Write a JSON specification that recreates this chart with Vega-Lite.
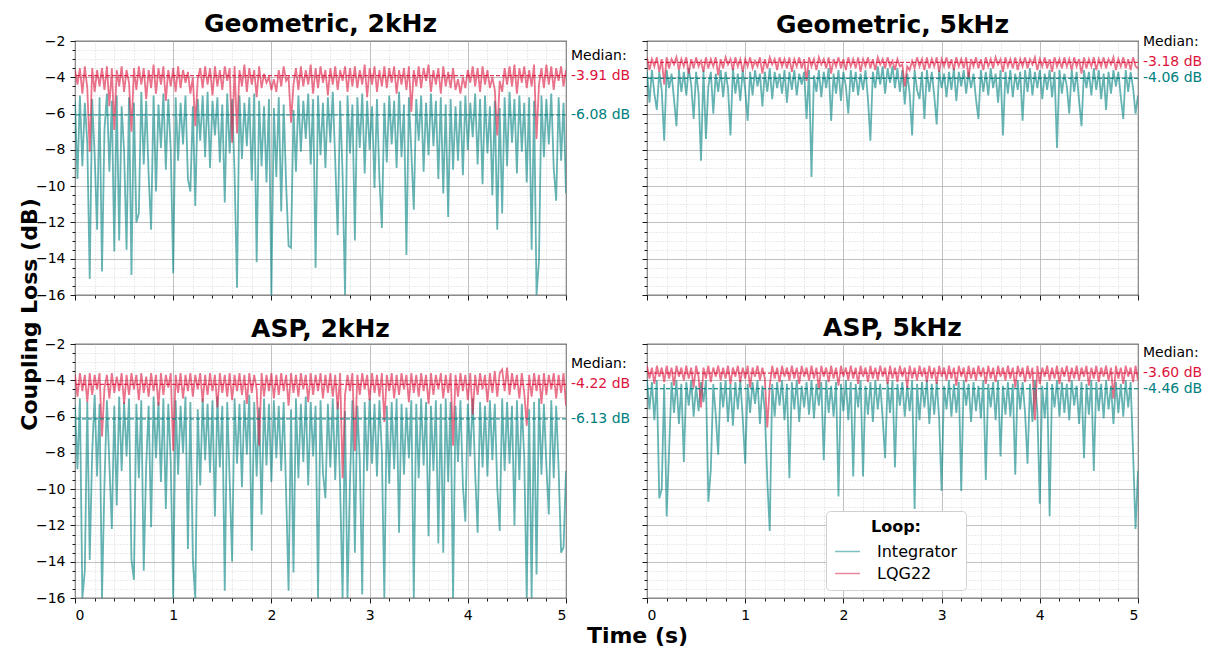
{
"$schema":"https://vega.github.io/schema/vega-lite/v6.json",
"padding":{"left":17,"top":11,"right":5,"bottom":0},
"bounds":"flush",
"columns":2,
"spacing":{"row":49,"column":81},
"datasets":{
"mg2":[{"s":"LQG22","m":-3.91,"lab":"-3.91 dB"},{"s":"Integrator","m":-6.08,"lab":"-6.08 dB"}],
"mg5":[{"s":"LQG22","m":-3.18,"lab":"-3.18 dB"},{"s":"Integrator","m":-4.06,"lab":"-4.06 dB"}],
"ma2":[{"s":"LQG22","m":-4.22,"lab":"-4.22 dB"},{"s":"Integrator","m":-6.13,"lab":"-6.13 dB"}],
"ma5":[{"s":"LQG22","m":-3.60,"lab":"-3.60 dB"},{"s":"Integrator","m":-4.46,"lab":"-4.46 dB"}],
"g2":[
{"t":0,"i":-5.3,"q":-3.6},{"t":0.025,"i":-9.6,"q":-4.4},{"t":0.05,"i":-5,"q":-3.5},{"t":0.075,"i":-8.9,"q":-4.9},{"t":0.1,"i":-5.4,"q":-3.4},{"t":0.125,"i":-7.6,"q":-4.6},{"t":0.15,"i":-15.1,"q":-8.1},{"t":0.175,"i":-5.2,"q":-3.5},{"t":0.2,"i":-8.3,"q":-4.8},{"t":0.225,"i":-12.4,"q":-3.6},
{"t":0.25,"i":-5.1,"q":-4.5},{"t":0.275,"i":-14.7,"q":-3.5},{"t":0.3,"i":-6.9,"q":-4.7},{"t":0.325,"i":-4.9,"q":-3.4},{"t":0.35,"i":-9.2,"q":-5.6},{"t":0.375,"i":-5.3,"q":-3.5},{"t":0.4,"i":-13.6,"q":-6.9},{"t":0.425,"i":-5,"q":-3.6},{"t":0.45,"i":-13,"q":-4.5},{"t":0.475,"i":-5.6,"q":-3.4},
{"t":0.5,"i":-8.1,"q":-4.8},{"t":0.525,"i":-13.5,"q":-3.6},{"t":0.55,"i":-5.1,"q":-4.3},{"t":0.575,"i":-14.9,"q":-7},{"t":0.6,"i":-5.4,"q":-3.5},{"t":0.625,"i":-12,"q":-4.7},{"t":0.65,"i":-11.5,"q":-3.4},{"t":0.675,"i":-4.8,"q":-4.4},{"t":0.7,"i":-8.8,"q":-3.5},{"t":0.725,"i":-5.3,"q":-5.2},
{"t":0.75,"i":-9.4,"q":-3.6},{"t":0.775,"i":-12.4,"q":-4.6},{"t":0.8,"i":-5,"q":-3.3},{"t":0.825,"i":-10.3,"q":-4.9},{"t":0.85,"i":-5.5,"q":-3.5},{"t":0.875,"i":-7.9,"q":-4.4},{"t":0.9,"i":-4.9,"q":-3.4},{"t":0.925,"i":-9.1,"q":-5.3},{"t":0.95,"i":-5.2,"q":-3.6},{"t":0.975,"i":-8,"q":-4.5},
{"t":1,"i":-14.8,"q":-3.5},{"t":1.025,"i":-5.1,"q":-4.8},{"t":1.05,"i":-8.6,"q":-3.4},{"t":1.075,"i":-5.4,"q":-4.6},{"t":1.1,"i":-7.7,"q":-3.6},{"t":1.125,"i":-5,"q":-4.3},{"t":1.15,"i":-9.6,"q":-3.7},{"t":1.175,"i":-10.3,"q":-4.9},{"t":1.2,"i":-5.6,"q":-4},{"t":1.225,"i":-11.1,"q":-6.7},
{"t":1.25,"i":-5.2,"q":-4.1},{"t":1.275,"i":-7.5,"q":-3.5},{"t":1.3,"i":-5,"q":-4.6},{"t":1.325,"i":-8.4,"q":-3.4},{"t":1.35,"i":-4.8,"q":-4.4},{"t":1.375,"i":-9,"q":-3.5},{"t":1.4,"i":-5.3,"q":-5},{"t":1.425,"i":-7.2,"q":-3.4},{"t":1.45,"i":-5.1,"q":-4.5},{"t":1.475,"i":-8.7,"q":-3.6},
{"t":1.5,"i":-5.5,"q":-4.7},{"t":1.525,"i":-10.9,"q":-3.4},{"t":1.55,"i":-4.9,"q":-4.2},{"t":1.575,"i":-8.2,"q":-3.5},{"t":1.6,"i":-5.2,"q":-7.6},{"t":1.625,"i":-9.3,"q":-3.4},{"t":1.65,"i":-15.6,"q":-7.1},{"t":1.675,"i":-5,"q":-3.6},{"t":1.7,"i":-8.5,"q":-4.5},{"t":1.725,"i":-5.4,"q":-3.3},
{"t":1.75,"i":-7.8,"q":-4.8},{"t":1.775,"i":-5.1,"q":-3.5},{"t":1.8,"i":-9.7,"q":-4.4},{"t":1.825,"i":-4.9,"q":-3.6},{"t":1.85,"i":-14.2,"q":-5.1},{"t":1.875,"i":-5.3,"q":-3.4},{"t":1.9,"i":-8.9,"q":-4.6},{"t":1.925,"i":-5.6,"q":-3.8},{"t":1.95,"i":-9.8,"q":-4.3},{"t":1.975,"i":-5.2,"q":-4},
{"t":2,"i":-16,"q":-4.7},{"t":2.025,"i":-5.7,"q":-4.1},{"t":2.05,"i":-9.5,"q":-4.8},{"t":2.075,"i":-5.1,"q":-3.6},{"t":2.1,"i":-11.4,"q":-4.5},{"t":2.125,"i":-5.5,"q":-3.4},{"t":2.15,"i":-9.9,"q":-4.2},{"t":2.175,"i":-13.3,"q":-4},{"t":2.2,"i":-13.4,"q":-6.5},{"t":2.225,"i":-5.8,"q":-4.4},
{"t":2.25,"i":-9.2,"q":-3.5},{"t":2.275,"i":-5,"q":-4.7},{"t":2.3,"i":-8.1,"q":-3.4},{"t":2.325,"i":-5.3,"q":-4.5},{"t":2.35,"i":-7.4,"q":-3.6},{"t":2.375,"i":-4.9,"q":-4.4},{"t":2.4,"i":-8.8,"q":-3.3},{"t":2.425,"i":-5.2,"q":-4.9},{"t":2.45,"i":-14.5,"q":-3.5},{"t":2.475,"i":-5,"q":-4.6},
{"t":2.5,"i":-8.3,"q":-3.4},{"t":2.525,"i":-5.4,"q":-4.3},{"t":2.55,"i":-9,"q":-3.6},{"t":2.575,"i":-5.1,"q":-5},{"t":2.6,"i":-7.6,"q":-3.5},{"t":2.625,"i":-4.8,"q":-4.4},{"t":2.65,"i":-8.6,"q":-3.4},{"t":2.675,"i":-12.7,"q":-4.7},{"t":2.7,"i":-5.3,"q":-3.6},{"t":2.725,"i":-9.4,"q":-4.2},
{"t":2.75,"i":-16,"q":-3.4},{"t":2.775,"i":-5,"q":-4.8},{"t":2.8,"i":-8.2,"q":-3.5},{"t":2.825,"i":-5.5,"q":-4.5},{"t":2.85,"i":-13,"q":-3.4},{"t":2.875,"i":-5.1,"q":-4.6},{"t":2.9,"i":-7.9,"q":-3.6},{"t":2.925,"i":-4.9,"q":-4.4},{"t":2.95,"i":-9.3,"q":-3.3},{"t":2.975,"i":-5.3,"q":-5.1},
{"t":3,"i":-8,"q":-3.5},{"t":3.025,"i":-5.6,"q":-4.4},{"t":3.05,"i":-10.1,"q":-3.4},{"t":3.075,"i":-5.2,"q":-4.8},{"t":3.1,"i":-9.6,"q":-3.6},{"t":3.125,"i":-12.3,"q":-4.5},{"t":3.15,"i":-5.4,"q":-3.4},{"t":3.175,"i":-8.7,"q":-4.6},{"t":3.2,"i":-5,"q":-3.5},{"t":3.225,"i":-7.7,"q":-4.3},
{"t":3.25,"i":-5.3,"q":-3.4},{"t":3.275,"i":-9,"q":-4.9},{"t":3.3,"i":-4.8,"q":-3.6},{"t":3.325,"i":-8.4,"q":-4.4},{"t":3.35,"i":-5.5,"q":-3.5},{"t":3.375,"i":-13.8,"q":-4.7},{"t":3.4,"i":-5.1,"q":-3.4},{"t":3.425,"i":-8.1,"q":-5.9},{"t":3.45,"i":-11.3,"q":-3.6},{"t":3.475,"i":-5.2,"q":-4.5},
{"t":3.5,"i":-7.5,"q":-3.4},{"t":3.525,"i":-5,"q":-4.6},{"t":3.55,"i":-9.2,"q":-3.5},{"t":3.575,"i":-5.4,"q":-4.2},{"t":3.6,"i":-8.3,"q":-3.3},{"t":3.625,"i":-4.9,"q":-4.8},{"t":3.65,"i":-7.8,"q":-3.6},{"t":3.675,"i":-5.3,"q":-4.4},{"t":3.7,"i":-9.6,"q":-3.5},{"t":3.725,"i":-5.1,"q":-4.9},
{"t":3.75,"i":-10.4,"q":-3.4},{"t":3.775,"i":-5.5,"q":-4.5},{"t":3.8,"i":-11.7,"q":-3.7},{"t":3.825,"i":-5.2,"q":-4.6},{"t":3.85,"i":-9.1,"q":-3.5},{"t":3.875,"i":-5.6,"q":-4.7},{"t":3.9,"i":-8.6,"q":-4.1},{"t":3.925,"i":-5.3,"q":-4.9},{"t":3.95,"i":-9.4,"q":-4},{"t":3.975,"i":-5,"q":-4.6},
{"t":4,"i":-8,"q":-3.6},{"t":4.025,"i":-5.4,"q":-4.3},{"t":4.05,"i":-7.3,"q":-3.4},{"t":4.075,"i":-4.9,"q":-4.5},{"t":4.1,"i":-8.8,"q":-3.5},{"t":4.125,"i":-5.2,"q":-4.8},{"t":4.15,"i":-9.9,"q":-3.4},{"t":4.175,"i":-5,"q":-4.4},{"t":4.2,"i":-8.2,"q":-3.6},{"t":4.225,"i":-5.6,"q":-4.6},
{"t":4.25,"i":-10.5,"q":-4},{"t":4.275,"i":-5.3,"q":-4.7},{"t":4.3,"i":-12.4,"q":-7.2},{"t":4.325,"i":-5.7,"q":-4.2},{"t":4.35,"i":-11.5,"q":-4.8},{"t":4.375,"i":-5.1,"q":-3.5},{"t":4.4,"i":-8.9,"q":-4.4},{"t":4.425,"i":-4.8,"q":-3.4},{"t":4.45,"i":-7.6,"q":-4.5},{"t":4.475,"i":-5.2,"q":-3.3},
{"t":4.5,"i":-9.3,"q":-4.9},{"t":4.525,"i":-5,"q":-3.5},{"t":4.55,"i":-8.1,"q":-4.3},{"t":4.575,"i":-5.4,"q":-3.4},{"t":4.6,"i":-9.8,"q":-4.6},{"t":4.625,"i":-5.1,"q":-3.6},{"t":4.65,"i":-13.5,"q":-4.5},{"t":4.675,"i":-5.3,"q":-3.3},{"t":4.7,"i":-16,"q":-7.4},{"t":4.725,"i":-14.1,"q":-4.4},
{"t":4.75,"i":-5,"q":-3.5},{"t":4.775,"i":-8.4,"q":-4.6},{"t":4.8,"i":-5.2,"q":-3.3},{"t":4.825,"i":-7.7,"q":-4.4},{"t":4.85,"i":-4.9,"q":-3.4},{"t":4.875,"i":-9,"q":-4.7},{"t":4.9,"i":-10.8,"q":-3.5},{"t":4.925,"i":-5.1,"q":-4.2},{"t":4.95,"i":-8.6,"q":-3.4},{"t":4.975,"i":-5.4,"q":-4.5},
{"t":5,"i":-10.4,"q":-3.6}],
"g5":[
{"t":0,"i":-3.7,"q":-2.9},{"t":0.025,"i":-5.4,"q":-3.6},{"t":0.05,"i":-3.6,"q":-3},{"t":0.075,"i":-4.9,"q":-3.4},{"t":0.1,"i":-5.8,"q":-2.9},{"t":0.125,"i":-3.7,"q":-3.7},{"t":0.15,"i":-4.7,"q":-3},{"t":0.175,"i":-7.5,"q":-4.4},{"t":0.2,"i":-3.6,"q":-2.9},{"t":0.225,"i":-4.6,"q":-3.5},
{"t":0.25,"i":-3.8,"q":-3},{"t":0.275,"i":-5.2,"q":-3.3},{"t":0.3,"i":-6.7,"q":-2.9},{"t":0.325,"i":-3.6,"q":-3.6},{"t":0.35,"i":-4.8,"q":-3},{"t":0.375,"i":-3.7,"q":-3.4},{"t":0.4,"i":-5,"q":-2.9},{"t":0.425,"i":-3.5,"q":-3.8},{"t":0.45,"i":-4.4,"q":-3},{"t":0.475,"i":-6.3,"q":-3.5},
{"t":0.5,"i":-3.7,"q":-2.9},{"t":0.525,"i":-4.9,"q":-3.4},{"t":0.55,"i":-8.6,"q":-3.1},{"t":0.575,"i":-3.6,"q":-3.7},{"t":0.6,"i":-7.4,"q":-2.9},{"t":0.625,"i":-4.5,"q":-3.5},{"t":0.65,"i":-3.7,"q":-3},{"t":0.675,"i":-6,"q":-3.4},{"t":0.7,"i":-3.8,"q":-2.9},{"t":0.725,"i":-4.8,"q":-3.9},
{"t":0.75,"i":-3.6,"q":-3},{"t":0.775,"i":-5.1,"q":-3.5},{"t":0.8,"i":-3.7,"q":-2.9},{"t":0.825,"i":-4.6,"q":-3.3},{"t":0.85,"i":-7.2,"q":-3},{"t":0.875,"i":-3.5,"q":-3.6},{"t":0.9,"i":-4.9,"q":-2.9},{"t":0.925,"i":-3.8,"q":-3.4},{"t":0.95,"i":-5.3,"q":-3},{"t":0.975,"i":-3.6,"q":-3.7},
{"t":1,"i":-4.7,"q":-3},{"t":1.025,"i":-6.4,"q":-3.4},{"t":1.05,"i":-3.7,"q":-2.9},{"t":1.075,"i":-5,"q":-3.5},{"t":1.1,"i":-3.6,"q":-3.1},{"t":1.125,"i":-4.5,"q":-3.4},{"t":1.15,"i":-3.8,"q":-2.9},{"t":1.175,"i":-5.6,"q":-3.8},{"t":1.2,"i":-3.7,"q":-3},{"t":1.225,"i":-4.8,"q":-3.5},
{"t":1.25,"i":-3.5,"q":-2.9},{"t":1.275,"i":-5.2,"q":-3.3},{"t":1.3,"i":-3.7,"q":-3},{"t":1.325,"i":-4.6,"q":-3.6},{"t":1.35,"i":-3.8,"q":-2.9},{"t":1.375,"i":-4.9,"q":-3.4},{"t":1.4,"i":-3.6,"q":-3},{"t":1.425,"i":-5.4,"q":-3.5},{"t":1.45,"i":-3.7,"q":-2.9},{"t":1.475,"i":-4.7,"q":-3.7},
{"t":1.5,"i":-3.6,"q":-3},{"t":1.525,"i":-5,"q":-3.4},{"t":1.55,"i":-3.8,"q":-2.9},{"t":1.575,"i":-4.4,"q":-3.5},{"t":1.6,"i":-3.7,"q":-3},{"t":1.625,"i":-6.3,"q":-4.2},{"t":1.65,"i":-3.6,"q":-2.9},{"t":1.675,"i":-9.5,"q":-3.4},{"t":1.7,"i":-3.9,"q":-3},{"t":1.725,"i":-4.8,"q":-3.6},
{"t":1.75,"i":-3.6,"q":-2.9},{"t":1.775,"i":-5.1,"q":-3.3},{"t":1.8,"i":-3.7,"q":-3},{"t":1.825,"i":-4.6,"q":-3.5},{"t":1.85,"i":-3.5,"q":-2.9},{"t":1.875,"i":-6.4,"q":-3.8},{"t":1.9,"i":-3.8,"q":-3},{"t":1.925,"i":-4.9,"q":-3.4},{"t":1.95,"i":-3.6,"q":-2.9},{"t":1.975,"i":-5.3,"q":-3.5},
{"t":2,"i":-3.7,"q":-3},{"t":2.025,"i":-4.5,"q":-3.6},{"t":2.05,"i":-6,"q":-2.9},{"t":2.075,"i":-3.6,"q":-3.4},{"t":2.1,"i":-4.8,"q":-3},{"t":2.125,"i":-3.7,"q":-3.5},{"t":2.15,"i":-5,"q":-2.9},{"t":2.175,"i":-3.8,"q":-3.7},{"t":2.2,"i":-4.7,"q":-3},{"t":2.225,"i":-3.6,"q":-3.4},
{"t":2.25,"i":-5.2,"q":-2.9},{"t":2.275,"i":-7.5,"q":-3.5},{"t":2.3,"i":-3.7,"q":-3},{"t":2.325,"i":-4.6,"q":-3.6},{"t":2.35,"i":-3.4,"q":-2.9},{"t":2.375,"i":-4.4,"q":-3.3},{"t":2.4,"i":-3.4,"q":-3},{"t":2.425,"i":-4.9,"q":-3.5},{"t":2.45,"i":-3.5,"q":-2.9},{"t":2.475,"i":-4.3,"q":-3.4},
{"t":2.5,"i":-3.4,"q":-3.1},{"t":2.525,"i":-4.6,"q":-3.6},{"t":2.55,"i":-3.5,"q":-3},{"t":2.575,"i":-4.8,"q":-3.4},{"t":2.6,"i":-3.6,"q":-3.3},{"t":2.625,"i":-5.5,"q":-4.5},{"t":2.65,"i":-3.8,"q":-3.4},{"t":2.675,"i":-4.9,"q":-3.6},{"t":2.7,"i":-7.2,"q":-3.1},{"t":2.725,"i":-3.6,"q":-3.5},
{"t":2.75,"i":-4.7,"q":-2.9},{"t":2.775,"i":-5.2,"q":-3.4},{"t":2.8,"i":-3.7,"q":-3},{"t":2.825,"i":-6.3,"q":-3.6},{"t":2.85,"i":-3.6,"q":-2.9},{"t":2.875,"i":-4.8,"q":-3.5},{"t":2.9,"i":-3.7,"q":-3},{"t":2.925,"i":-5,"q":-3.4},{"t":2.95,"i":-6.6,"q":-2.9},{"t":2.975,"i":-3.6,"q":-3.7},
{"t":3,"i":-4.6,"q":-3},{"t":3.025,"i":-3.8,"q":-3.4},{"t":3.05,"i":-5.1,"q":-2.9},{"t":3.075,"i":-3.7,"q":-3.5},{"t":3.1,"i":-4.7,"q":-3},{"t":3.125,"i":-3.5,"q":-3.6},{"t":3.15,"i":-5.3,"q":-2.9},{"t":3.175,"i":-3.7,"q":-3.4},{"t":3.2,"i":-4.5,"q":-3},{"t":3.225,"i":-3.6,"q":-3.5},
{"t":3.25,"i":-4.9,"q":-2.9},{"t":3.275,"i":-3.7,"q":-4},{"t":3.3,"i":-4.6,"q":-3},{"t":3.325,"i":-3.8,"q":-3.4},{"t":3.35,"i":-5.2,"q":-2.9},{"t":3.375,"i":-6.3,"q":-3.5},{"t":3.4,"i":-3.6,"q":-3},{"t":3.425,"i":-4.8,"q":-3.6},{"t":3.45,"i":-3.7,"q":-2.9},{"t":3.475,"i":-5,"q":-3.4},
{"t":3.5,"i":-3.5,"q":-3},{"t":3.525,"i":-4.6,"q":-3.5},{"t":3.55,"i":-3.8,"q":-2.9},{"t":3.575,"i":-5.4,"q":-3.3},{"t":3.6,"i":-3.6,"q":-3},{"t":3.625,"i":-7.2,"q":-3.7},{"t":3.65,"i":-3.7,"q":-2.9},{"t":3.675,"i":-4.9,"q":-3.4},{"t":3.7,"i":-3.6,"q":-3},{"t":3.725,"i":-5.1,"q":-3.5},
{"t":3.75,"i":-3.8,"q":-2.9},{"t":3.775,"i":-4.7,"q":-3.6},{"t":3.8,"i":-3.7,"q":-3},{"t":3.825,"i":-6.4,"q":-3.4},{"t":3.85,"i":-3.6,"q":-2.9},{"t":3.875,"i":-4.8,"q":-3.5},{"t":3.9,"i":-3.5,"q":-3},{"t":3.925,"i":-5,"q":-3.3},{"t":3.95,"i":-3.7,"q":-2.9},{"t":3.975,"i":-4.6,"q":-3.6},
{"t":4,"i":-3.6,"q":-3},{"t":4.025,"i":-5.2,"q":-3.4},{"t":4.05,"i":-3.8,"q":-2.9},{"t":4.075,"i":-4.7,"q":-3.5},{"t":4.1,"i":-3.6,"q":-3},{"t":4.125,"i":-5.1,"q":-3.7},{"t":4.15,"i":-3.7,"q":-2.9},{"t":4.175,"i":-7.9,"q":-3.4},{"t":4.2,"i":-3.6,"q":-3},{"t":4.225,"i":-4.9,"q":-3.5},
{"t":4.25,"i":-3.8,"q":-2.9},{"t":4.275,"i":-4.5,"q":-3.4},{"t":4.3,"i":-6,"q":-3},{"t":4.325,"i":-3.6,"q":-3.6},{"t":4.35,"i":-4.8,"q":-2.9},{"t":4.375,"i":-3.7,"q":-3.4},{"t":4.4,"i":-5.3,"q":-3},{"t":4.425,"i":-6.7,"q":-3.8},{"t":4.45,"i":-3.6,"q":-2.9},{"t":4.475,"i":-4.6,"q":-3.5},
{"t":4.5,"i":-3.7,"q":-3},{"t":4.525,"i":-5,"q":-3.4},{"t":4.55,"i":-3.5,"q":-2.9},{"t":4.575,"i":-4.7,"q":-3.6},{"t":4.6,"i":-3.6,"q":-3},{"t":4.625,"i":-5.2,"q":-3.4},{"t":4.65,"i":-3.8,"q":-2.9},{"t":4.675,"i":-5.8,"q":-3.5},{"t":4.7,"i":-3.7,"q":-3},{"t":4.725,"i":-4.9,"q":-3.3},
{"t":4.75,"i":-3.6,"q":-2.9},{"t":4.775,"i":-4.5,"q":-3.6},{"t":4.8,"i":-3.7,"q":-3},{"t":4.825,"i":-5.1,"q":-3.4},{"t":4.85,"i":-6.3,"q":-2.9},{"t":4.875,"i":-3.6,"q":-3.5},{"t":4.9,"i":-4.8,"q":-3},{"t":4.925,"i":-3.7,"q":-3.6},{"t":4.95,"i":-4.6,"q":-2.9},{"t":4.975,"i":-6,"q":-3.4},
{"t":5,"i":-5,"q":-3.5}],
"a2":[
{"t":0,"i":-5.4,"q":-3.7},{"t":0.025,"i":-8.9,"q":-4.9},{"t":0.05,"i":-5,"q":-3.6},{"t":0.075,"i":-16,"q":-4.6},{"t":0.1,"i":-14.5,"q":-3.7},{"t":0.125,"i":-5.2,"q":-5.2},{"t":0.15,"i":-13.9,"q":-3.6},{"t":0.175,"i":-8,"q":-4.8},{"t":0.2,"i":-4.8,"q":-3.7},{"t":0.225,"i":-9.3,"q":-4.5},
{"t":0.25,"i":-5.3,"q":-3.6},{"t":0.275,"i":-16,"q":-7.1},{"t":0.3,"i":-9.7,"q":-4.4},{"t":0.325,"i":-5.1,"q":-3.7},{"t":0.35,"i":-8.6,"q":-5},{"t":0.375,"i":-12.2,"q":-3.6},{"t":0.4,"i":-5.4,"q":-4.7},{"t":0.425,"i":-10.9,"q":-3.8},{"t":0.45,"i":-4.9,"q":-4.6},{"t":0.475,"i":-9,"q":-3.6},
{"t":0.5,"i":-5.2,"q":-5.3},{"t":0.525,"i":-8.2,"q":-3.7},{"t":0.55,"i":-5,"q":-4.8},{"t":0.575,"i":-13.9,"q":-3.6},{"t":0.6,"i":-15,"q":-4.5},{"t":0.625,"i":-5.3,"q":-3.7},{"t":0.65,"i":-9.4,"q":-5.1},{"t":0.675,"i":-5.1,"q":-3.6},{"t":0.7,"i":-14.5,"q":-4.7},{"t":0.725,"i":-8.7,"q":-3.8},
{"t":0.75,"i":-5.4,"q":-4.9},{"t":0.775,"i":-12.1,"q":-3.6},{"t":0.8,"i":-4.9,"q":-4.6},{"t":0.825,"i":-8.3,"q":-3.7},{"t":0.85,"i":-5.2,"q":-5.4},{"t":0.875,"i":-9.6,"q":-3.6},{"t":0.9,"i":-5,"q":-4.8},{"t":0.925,"i":-11.1,"q":-3.7},{"t":0.95,"i":-5.3,"q":-4.4},{"t":0.975,"i":-8.5,"q":-3.6},
{"t":1,"i":-16,"q":-7.9},{"t":1.025,"i":-5.1,"q":-3.7},{"t":1.05,"i":-9.2,"q":-4.7},{"t":1.075,"i":-5.4,"q":-3.6},{"t":1.1,"i":-8,"q":-5},{"t":1.125,"i":-4.9,"q":-3.7},{"t":1.15,"i":-13.3,"q":-4.6},{"t":1.175,"i":-5.2,"q":-3.6},{"t":1.2,"i":-13.9,"q":-4.9},{"t":1.225,"i":-16,"q":-3.7},
{"t":1.25,"i":-5.6,"q":-4.5},{"t":1.275,"i":-9.8,"q":-3.6},{"t":1.3,"i":-5,"q":-5.2},{"t":1.325,"i":-8.4,"q":-3.7},{"t":1.35,"i":-5.3,"q":-4.8},{"t":1.375,"i":-9.1,"q":-3.6},{"t":1.4,"i":-5.1,"q":-4.6},{"t":1.425,"i":-11.5,"q":-3.7},{"t":1.45,"i":-4.9,"q":-5.5},{"t":1.475,"i":-8.8,"q":-3.6},
{"t":1.5,"i":-5.4,"q":-4.7},{"t":1.525,"i":-15.6,"q":-3.7},{"t":1.55,"i":-5.2,"q":-4.9},{"t":1.575,"i":-9.5,"q":-3.6},{"t":1.6,"i":-14,"q":-5.1},{"t":1.625,"i":-5,"q":-3.7},{"t":1.65,"i":-8.6,"q":-4.6},{"t":1.675,"i":-5.3,"q":-3.6},{"t":1.7,"i":-9.9,"q":-4.8},{"t":1.725,"i":-5.1,"q":-3.7},
{"t":1.75,"i":-8.1,"q":-5.3},{"t":1.775,"i":-4.8,"q":-3.6},{"t":1.8,"i":-13.4,"q":-4.7},{"t":1.825,"i":-5.2,"q":-3.7},{"t":1.85,"i":-9.3,"q":-4.5},{"t":1.875,"i":-5.5,"q":-7.6},{"t":1.9,"i":-11.4,"q":-3.6},{"t":1.925,"i":-5,"q":-4.9},{"t":1.95,"i":-8.7,"q":-3.7},{"t":1.975,"i":-5.3,"q":-4.6},
{"t":2,"i":-9.6,"q":-3.6},{"t":2.025,"i":-5.1,"q":-5},{"t":2.05,"i":-8.3,"q":-3.7},{"t":2.075,"i":-5.4,"q":-4.8},{"t":2.1,"i":-9,"q":-3.6},{"t":2.125,"i":-5.2,"q":-4.6},{"t":2.15,"i":-10.2,"q":-3.7},{"t":2.175,"i":-15.6,"q":-5.4},{"t":2.2,"i":-5.6,"q":-3.6},{"t":2.225,"i":-14.6,"q":-4.7},
{"t":2.25,"i":-5,"q":-3.7},{"t":2.275,"i":-9.4,"q":-4.9},{"t":2.3,"i":-5.3,"q":-3.6},{"t":2.325,"i":-8.5,"q":-4.5},{"t":2.35,"i":-4.9,"q":-3.7},{"t":2.375,"i":-9.8,"q":-5.2},{"t":2.4,"i":-5.2,"q":-3.6},{"t":2.425,"i":-8.2,"q":-4.8},{"t":2.45,"i":-5.4,"q":-3.7},{"t":2.475,"i":-16,"q":-4.6},
{"t":2.5,"i":-5.1,"q":-3.6},{"t":2.525,"i":-9.1,"q":-5},{"t":2.55,"i":-10.5,"q":-3.7},{"t":2.575,"i":-5.3,"q":-4.7},{"t":2.6,"i":-8.8,"q":-3.6},{"t":2.625,"i":-5,"q":-4.9},{"t":2.65,"i":-9.5,"q":-3.7},{"t":2.675,"i":-5.2,"q":-5.6},{"t":2.7,"i":-9.9,"q":-3.6},{"t":2.725,"i":-16,"q":-9.4},
{"t":2.75,"i":-5.7,"q":-4.8},{"t":2.775,"i":-16,"q":-3.7},{"t":2.8,"i":-9.6,"q":-4.6},{"t":2.825,"i":-5.1,"q":-3.6},{"t":2.85,"i":-13.5,"q":-7.9},{"t":2.875,"i":-5.4,"q":-3.7},{"t":2.9,"i":-8.4,"q":-4.8},{"t":2.925,"i":-15.8,"q":-3.6},{"t":2.95,"i":-5.2,"q":-4.5},{"t":2.975,"i":-9,"q":-3.7},
{"t":3,"i":-5,"q":-5.1},{"t":3.025,"i":-8.6,"q":-3.6},{"t":3.05,"i":-5.3,"q":-4.7},{"t":3.075,"i":-9.3,"q":-3.7},{"t":3.1,"i":-5.1,"q":-4.9},{"t":3.125,"i":-8,"q":-3.6},{"t":3.15,"i":-16,"q":-6.3},{"t":3.175,"i":-5.4,"q":-3.7},{"t":3.2,"i":-9.7,"q":-4.6},{"t":3.225,"i":-5.2,"q":-3.6},
{"t":3.25,"i":-8.9,"q":-5},{"t":3.275,"i":-5,"q":-3.7},{"t":3.3,"i":-12.4,"q":-4.8},{"t":3.325,"i":-5.3,"q":-3.6},{"t":3.35,"i":-9.2,"q":-4.5},{"t":3.375,"i":-5.5,"q":-3.7},{"t":3.4,"i":-8.3,"q":-5.2},{"t":3.425,"i":-5.1,"q":-3.6},{"t":3.45,"i":-16,"q":-4.7},{"t":3.475,"i":-5.3,"q":-3.7},
{"t":3.5,"i":-9.4,"q":-4.9},{"t":3.525,"i":-5,"q":-3.6},{"t":3.55,"i":-8.7,"q":-4.6},{"t":3.575,"i":-5.2,"q":-3.7},{"t":3.6,"i":-12.6,"q":-5.3},{"t":3.625,"i":-5.4,"q":-3.6},{"t":3.65,"i":-9,"q":-4.8},{"t":3.675,"i":-5.1,"q":-3.7},{"t":3.7,"i":-13,"q":-4.5},{"t":3.725,"i":-5.3,"q":-3.6},
{"t":3.75,"i":-13.5,"q":-5},{"t":3.775,"i":-5,"q":-3.7},{"t":3.8,"i":-9.6,"q":-4.7},{"t":3.825,"i":-5.2,"q":-3.6},{"t":3.85,"i":-16,"q":-7.6},{"t":3.875,"i":-5.4,"q":-3.7},{"t":3.9,"i":-8.5,"q":-4.9},{"t":3.925,"i":-5.1,"q":-3.6},{"t":3.95,"i":-9.8,"q":-4.6},{"t":3.975,"i":-11.8,"q":-3.7},
{"t":4,"i":-5.3,"q":-5.1},{"t":4.025,"i":-8.2,"q":-3.6},{"t":4.05,"i":-5,"q":-5.9},{"t":4.075,"i":-9.1,"q":-3.7},{"t":4.1,"i":-12.4,"q":-4.8},{"t":4.125,"i":-5.2,"q":-3.6},{"t":4.15,"i":-8.8,"q":-4.5},{"t":4.175,"i":-5.4,"q":-3.7},{"t":4.2,"i":-9.3,"q":-5.2},{"t":4.225,"i":-5.1,"q":-3.6},
{"t":4.25,"i":-8.4,"q":-4.7},{"t":4.275,"i":-5.3,"q":-3.5},{"t":4.3,"i":-9.9,"q":-4.9},{"t":4.325,"i":-12.3,"q":-3.6},{"t":4.35,"i":-5,"q":-3.4},{"t":4.375,"i":-9,"q":-4.6},{"t":4.4,"i":-5.2,"q":-3.3},{"t":4.425,"i":-8.6,"q":-4.8},{"t":4.45,"i":-5.4,"q":-3.6},{"t":4.475,"i":-12,"q":-4.5},
{"t":4.5,"i":-5.1,"q":-3.7},{"t":4.525,"i":-9.5,"q":-5},{"t":4.55,"i":-5.3,"q":-3.6},{"t":4.575,"i":-8.3,"q":-4.7},{"t":4.6,"i":-16,"q":-6.5},{"t":4.625,"i":-5.6,"q":-3.7},{"t":4.65,"i":-16,"q":-4.9},{"t":4.675,"i":-5.2,"q":-3.6},{"t":4.7,"i":-14.7,"q":-4.6},{"t":4.725,"i":-5,"q":-3.7},
{"t":4.75,"i":-9.2,"q":-5.3},{"t":4.775,"i":-5.3,"q":-3.6},{"t":4.8,"i":-8.7,"q":-4.8},{"t":4.825,"i":-11.4,"q":-3.7},{"t":4.85,"i":-5.1,"q":-4.5},{"t":4.875,"i":-9.4,"q":-3.6},{"t":4.9,"i":-5.4,"q":-5},{"t":4.925,"i":-8.9,"q":-3.7},{"t":4.95,"i":-13.5,"q":-4.7},{"t":4.975,"i":-13.2,"q":-3.6},
{"t":5,"i":-9,"q":-5.4}],
"a5":[
{"t":0,"i":-4,"q":-3.2},{"t":0.025,"i":-5.6,"q":-3.9},{"t":0.05,"i":-4.1,"q":-3.3},{"t":0.075,"i":-6.2,"q":-4.2},{"t":0.1,"i":-4,"q":-3.2},{"t":0.125,"i":-10.5,"q":-3.8},{"t":0.15,"i":-10,"q":-3.3},{"t":0.175,"i":-4.2,"q":-4.1},{"t":0.2,"i":-11.5,"q":-3.2},{"t":0.225,"i":-7.9,"q":-3.9},
{"t":0.25,"i":-4.1,"q":-3.3},{"t":0.275,"i":-5.8,"q":-4.3},{"t":0.3,"i":-4,"q":-3.2},{"t":0.325,"i":-6.4,"q":-3.8},{"t":0.35,"i":-4.2,"q":-3.3},{"t":0.375,"i":-8.5,"q":-4},{"t":0.4,"i":-4.1,"q":-3.2},{"t":0.425,"i":-5.4,"q":-3.9},{"t":0.45,"i":-4,"q":-3.3},{"t":0.475,"i":-6,"q":-4.4},
{"t":0.5,"i":-4.3,"q":-3.2},{"t":0.525,"i":-5.7,"q":-3.8},{"t":0.55,"i":-4.1,"q":-5.5},{"t":0.575,"i":-5.2,"q":-3.3},{"t":0.6,"i":-4,"q":-3.9},{"t":0.625,"i":-10.7,"q":-3.2},{"t":0.65,"i":-8.9,"q":-4.1},{"t":0.675,"i":-4.2,"q":-3.3},{"t":0.7,"i":-5.9,"q":-3.8},{"t":0.725,"i":-8.1,"q":-3.2},
{"t":0.75,"i":-4.1,"q":-4},{"t":0.775,"i":-5.5,"q":-3.3},{"t":0.8,"i":-4,"q":-3.9},{"t":0.825,"i":-6.3,"q":-3.2},{"t":0.85,"i":-4.2,"q":-4.2},{"t":0.875,"i":-6.5,"q":-3.3},{"t":0.9,"i":-4.1,"q":-3.8},{"t":0.925,"i":-5.6,"q":-3.2},{"t":0.95,"i":-4,"q":-4.1},{"t":0.975,"i":-6.1,"q":-3.3},
{"t":1,"i":-8.6,"q":-3.9},{"t":1.025,"i":-4.2,"q":-3.2},{"t":1.05,"i":-5.8,"q":-4.4},{"t":1.075,"i":-4.1,"q":-3.3},{"t":1.1,"i":-5.3,"q":-3.8},{"t":1.125,"i":-4,"q":-3.2},{"t":1.15,"i":-6.4,"q":-4},{"t":1.175,"i":-4.3,"q":-3.3},{"t":1.2,"i":-5.7,"q":-3.9},{"t":1.225,"i":-9.5,"q":-6.6},
{"t":1.25,"i":-12.3,"q":-4.3},{"t":1.275,"i":-4.2,"q":-3.2},{"t":1.3,"i":-6,"q":-3.9},{"t":1.325,"i":-4.1,"q":-3.3},{"t":1.35,"i":-5.4,"q":-4.1},{"t":1.375,"i":-4,"q":-3.2},{"t":1.4,"i":-6.2,"q":-3.8},{"t":1.425,"i":-4.2,"q":-3.3},{"t":1.45,"i":-9.4,"q":-4},{"t":1.475,"i":-4.1,"q":-3.2},
{"t":1.5,"i":-5.6,"q":-3.9},{"t":1.525,"i":-4,"q":-3.3},{"t":1.55,"i":-6.3,"q":-4.2},{"t":1.575,"i":-4.3,"q":-3.2},{"t":1.6,"i":-5.5,"q":-3.8},{"t":1.625,"i":-4.1,"q":-3.3},{"t":1.65,"i":-5.9,"q":-4},{"t":1.675,"i":-4,"q":-3.2},{"t":1.7,"i":-6.1,"q":-3.9},{"t":1.725,"i":-4.2,"q":-3.3},
{"t":1.75,"i":-5.4,"q":-4.5},{"t":1.775,"i":-4.1,"q":-3.2},{"t":1.8,"i":-8.4,"q":-3.8},{"t":1.825,"i":-4,"q":-3.3},{"t":1.85,"i":-5.8,"q":-4.1},{"t":1.875,"i":-4.3,"q":-3.2},{"t":1.9,"i":-6,"q":-3.9},{"t":1.925,"i":-4.1,"q":-3.3},{"t":1.95,"i":-10.4,"q":-4.3},{"t":1.975,"i":-4.2,"q":-3.2},
{"t":2,"i":-5.7,"q":-3.8},{"t":2.025,"i":-4,"q":-3.3},{"t":2.05,"i":-6.2,"q":-4},{"t":2.075,"i":-4.1,"q":-3.2},{"t":2.1,"i":-9.3,"q":-3.9},{"t":2.125,"i":-4.2,"q":-3.3},{"t":2.15,"i":-5.5,"q":-4.2},{"t":2.175,"i":-4,"q":-3.2},{"t":2.2,"i":-9.3,"q":-3.8},{"t":2.225,"i":-4.3,"q":-3.3},
{"t":2.25,"i":-5.9,"q":-4.1},{"t":2.275,"i":-4.1,"q":-3.2},{"t":2.3,"i":-6.3,"q":-3.9},{"t":2.325,"i":-4,"q":-3.3},{"t":2.35,"i":-5.6,"q":-4},{"t":2.375,"i":-4.2,"q":-3.2},{"t":2.4,"i":-6.1,"q":-3.8},{"t":2.425,"i":-8.3,"q":-3.3},{"t":2.45,"i":-4.1,"q":-4.2},{"t":2.475,"i":-5.8,"q":-3.2},
{"t":2.5,"i":-4,"q":-3.9},{"t":2.525,"i":-8.8,"q":-3.3},{"t":2.55,"i":-4.2,"q":-4.1},{"t":2.575,"i":-5.4,"q":-3.2},{"t":2.6,"i":-4.1,"q":-3.8},{"t":2.625,"i":-6,"q":-3.3},{"t":2.65,"i":-4.3,"q":-4.4},{"t":2.675,"i":-5.7,"q":-3.2},{"t":2.7,"i":-4,"q":-3.9},{"t":2.725,"i":-11.1,"q":-3.3},
{"t":2.75,"i":-4.2,"q":-4},{"t":2.775,"i":-6.2,"q":-3.2},{"t":2.8,"i":-4.1,"q":-3.8},{"t":2.825,"i":-5.5,"q":-3.3},{"t":2.85,"i":-4,"q":-4.1},{"t":2.875,"i":-6.4,"q":-3.2},{"t":2.9,"i":-4.2,"q":-3.9},{"t":2.925,"i":-5.9,"q":-3.3},{"t":2.95,"i":-4.1,"q":-4.2},{"t":2.975,"i":-6.1,"q":-3.2},
{"t":3,"i":-10.1,"q":-3.8},{"t":3.025,"i":-4.3,"q":-3.3},{"t":3.05,"i":-5.6,"q":-4},{"t":3.075,"i":-4,"q":-3.2},{"t":3.1,"i":-6,"q":-3.9},{"t":3.125,"i":-4.2,"q":-3.3},{"t":3.15,"i":-5.8,"q":-4.3},{"t":3.175,"i":-4.1,"q":-3.2},{"t":3.2,"i":-10.1,"q":-3.8},{"t":3.225,"i":-4,"q":-3.3},
{"t":3.25,"i":-5.4,"q":-4.1},{"t":3.275,"i":-4.2,"q":-3.2},{"t":3.3,"i":-6.3,"q":-3.9},{"t":3.325,"i":-4.1,"q":-3.3},{"t":3.35,"i":-5.7,"q":-4},{"t":3.375,"i":-4.3,"q":-3.2},{"t":3.4,"i":-6.1,"q":-3.8},{"t":3.425,"i":-4,"q":-3.3},{"t":3.45,"i":-9.5,"q":-4.2},{"t":3.475,"i":-4.2,"q":-3.2},
{"t":3.5,"i":-5.5,"q":-3.9},{"t":3.525,"i":-4.1,"q":-3.3},{"t":3.55,"i":-6.2,"q":-4.1},{"t":3.575,"i":-4,"q":-3.2},{"t":3.6,"i":-8.2,"q":-3.8},{"t":3.625,"i":-4.3,"q":-3.3},{"t":3.65,"i":-5.9,"q":-4},{"t":3.675,"i":-4.1,"q":-3.2},{"t":3.7,"i":-6,"q":-3.9},{"t":3.725,"i":-4.2,"q":-3.3},
{"t":3.75,"i":-9.2,"q":-4.4},{"t":3.775,"i":-4,"q":-3.2},{"t":3.8,"i":-5.6,"q":-3.8},{"t":3.825,"i":-4.1,"q":-3.3},{"t":3.85,"i":-5.8,"q":-4.1},{"t":3.875,"i":-8.6,"q":-3.2},{"t":3.9,"i":-4.2,"q":-3.9},{"t":3.925,"i":-6.3,"q":-3.3},{"t":3.95,"i":-4,"q":-6.2},{"t":3.975,"i":-5.7,"q":-3.2},
{"t":4,"i":-10.8,"q":-4.2},{"t":4.025,"i":-4.3,"q":-3.3},{"t":4.05,"i":-6.1,"q":-3.8},{"t":4.075,"i":-4.1,"q":-3.2},{"t":4.1,"i":-11.5,"q":-4},{"t":4.125,"i":-4.2,"q":-3.3},{"t":4.15,"i":-5.5,"q":-3.9},{"t":4.175,"i":-4,"q":-3.2},{"t":4.2,"i":-6,"q":-4.2},{"t":4.225,"i":-4.1,"q":-3.3},
{"t":4.25,"i":-5.8,"q":-3.8},{"t":4.275,"i":-4.2,"q":-3.2},{"t":4.3,"i":-6.2,"q":-4.1},{"t":4.325,"i":-4,"q":-3.3},{"t":4.35,"i":-5.4,"q":-3.9},{"t":4.375,"i":-4.3,"q":-3.2},{"t":4.4,"i":-6.4,"q":-4},{"t":4.425,"i":-4.1,"q":-3.3},{"t":4.45,"i":-8.3,"q":-3.8},{"t":4.475,"i":-4.2,"q":-3.2},
{"t":4.5,"i":-5.9,"q":-4.3},{"t":4.525,"i":-4,"q":-3.3},{"t":4.55,"i":-9,"q":-3.9},{"t":4.575,"i":-4.1,"q":-3.2},{"t":4.6,"i":-5.7,"q":-4.1},{"t":4.625,"i":-4.2,"q":-3.3},{"t":4.65,"i":-6.1,"q":-3.8},{"t":4.675,"i":-4,"q":-3.2},{"t":4.7,"i":-5.6,"q":-4},{"t":4.725,"i":-4.3,"q":-3.3},
{"t":4.75,"i":-6.4,"q":-5},{"t":4.775,"i":-4.1,"q":-3.2},{"t":4.8,"i":-5.8,"q":-3.9},{"t":4.825,"i":-4.2,"q":-3.3},{"t":4.85,"i":-6,"q":-4.2},{"t":4.875,"i":-4,"q":-3.2},{"t":4.9,"i":-5.5,"q":-3.8},{"t":4.925,"i":-4.1,"q":-3.3},{"t":4.95,"i":-8,"q":-4.1},{"t":4.975,"i":-12.2,"q":-3.2},
{"t":5,"i":-9,"q":-4}]
},
"concat":[
{"width":491,"height":254,"title":{"text":"Geometric, 2kHz","offset":-3},"data":{"name":"g2"},
"layer":[
{"mark":{"type":"line","strokeWidth":1.8,"opacity":0.6,"clip":true},"encoding":{
"x":{"field":"t","type":"quantitative","scale":{"domain":[0,5],"nice":false},"axis":{"orient":"bottom","values":[0.2,0.4,0.6,0.8,1.2,1.4,1.6,1.8,2.2,2.4,2.6,2.8,3.2,3.4,3.6,3.8,4.2,4.4,4.6,4.8],"labels":false,"tickSize":3,"grid":true,"gridDash":[1,2],"gridColor":"#cccccc","gridWidth":0.8,"title":null}},
"y":{"field":"i","type":"quantitative","scale":{"domain":[-16,-2],"nice":false,"zero":false},"axis":{"orient":"left","values":[-15.5,-15,-14.5,-13.5,-13,-12.5,-11.5,-11,-10.5,-9.5,-9,-8.5,-7.5,-7,-6.5,-5.5,-5,-4.5,-3.5,-3,-2.5],"labels":false,"tickSize":3,"grid":true,"gridDash":[1,2],"gridColor":"#cccccc","gridWidth":0.8,"title":null}},
"color":{"datum":"Integrator","type":"nominal","scale":{"domain":["Integrator","LQG22"],"range":["#008080","#dc143c"]},"legend":null}}},
{"mark":{"type":"line","strokeWidth":1.8,"opacity":0.6,"clip":true},"encoding":{
"x":{"field":"t","type":"quantitative","scale":{"domain":[0,5],"nice":false},"axis":{"orient":"bottom","values":[0,1,2,3,4,5],"format":"d","labels":false,"tickSize":5,"grid":true,"gridColor":"#b0b0b0","gridWidth":0.8,"title":null}},
"y":{"field":"q","type":"quantitative","scale":{"domain":[-16,-2],"nice":false,"zero":false},"axis":{"orient":"left","values":[-16,-14,-12,-10,-8,-6,-4,-2],"format":"d","labels":true,"tickSize":5,"grid":true,"gridColor":"#b0b0b0","gridWidth":0.8,"title":"Coupling Loss (dB)","titleX":-39,"titleY":273,"titleAlign":"center","titleBaseline":"alphabetic","titleAngle":-90}},
"color":{"datum":"LQG22","type":"nominal","scale":{"domain":["Integrator","LQG22"],"range":["#008080","#dc143c"]},"legend":null}}},
{"data":{"name":"mg2"},"mark":{"type":"rule","strokeDash":[4,2],"strokeWidth":1.2,"opacity":0.85},"encoding":{
"y":{"field":"m","type":"quantitative","scale":{"domain":[-16,-2],"nice":false,"zero":false},"axis":null},
"stroke":{"field":"s","type":"nominal","scale":{"domain":["Integrator","LQG22"],"range":["#008080","#dc143c"]},"legend":null}}},
{"data":{"name":"mg2"},"mark":{"type":"text","align":"left","baseline":"middle","dx":5,"fontSize":14},"encoding":{
"x":{"datum":5,"type":"quantitative","scale":{"domain":[0,5],"nice":false},"axis":null},
"y":{"field":"m","type":"quantitative","scale":{"domain":[-16,-2],"nice":false,"zero":false},"axis":null},
"text":{"field":"lab"},
"fill":{"field":"s","type":"nominal","scale":{"domain":["Integrator","LQG22"],"range":["#008080","#dc143c"]},"legend":null}}},
{"data":{"name":"mg2"},"transform":[{"filter":{"field":"s","equal":"LQG22"}}],"mark":{"type":"text","align":"left","baseline":"middle","dx":5,"dy":-20,"fontSize":14,"color":"black"},"encoding":{
"x":{"datum":5,"type":"quantitative","scale":{"domain":[0,5],"nice":false},"axis":null},
"y":{"field":"m","type":"quantitative","scale":{"domain":[-16,-2],"nice":false,"zero":false},"axis":null},
"text":{"value":"Median:"}}}
],
"resolve":{"axis":{"x":"independent","y":"independent"}}},
{"width":491,"height":254,"title":{"text":"Geometric, 5kHz","offset":-3},"data":{"name":"g5"},
"layer":[
{"mark":{"type":"line","strokeWidth":1.8,"opacity":0.6,"clip":true},"encoding":{
"x":{"field":"t","type":"quantitative","scale":{"domain":[0,5],"nice":false},"axis":{"orient":"bottom","values":[0.2,0.4,0.6,0.8,1.2,1.4,1.6,1.8,2.2,2.4,2.6,2.8,3.2,3.4,3.6,3.8,4.2,4.4,4.6,4.8],"labels":false,"tickSize":3,"grid":true,"gridDash":[1,2],"gridColor":"#cccccc","gridWidth":0.8,"title":null}},
"y":{"field":"i","type":"quantitative","scale":{"domain":[-16,-2],"nice":false,"zero":false},"axis":{"orient":"left","values":[-15.5,-15,-14.5,-13.5,-13,-12.5,-11.5,-11,-10.5,-9.5,-9,-8.5,-7.5,-7,-6.5,-5.5,-5,-4.5,-3.5,-3,-2.5],"labels":false,"tickSize":3,"grid":true,"gridDash":[1,2],"gridColor":"#cccccc","gridWidth":0.8,"title":null}},
"color":{"datum":"Integrator","type":"nominal","scale":{"domain":["Integrator","LQG22"],"range":["#008080","#dc143c"]},"legend":null}}},
{"mark":{"type":"line","strokeWidth":1.8,"opacity":0.6,"clip":true},"encoding":{
"x":{"field":"t","type":"quantitative","scale":{"domain":[0,5],"nice":false},"axis":{"orient":"bottom","values":[0,1,2,3,4,5],"format":"d","labels":false,"tickSize":5,"grid":true,"gridColor":"#b0b0b0","gridWidth":0.8,"title":null}},
"y":{"field":"q","type":"quantitative","scale":{"domain":[-16,-2],"nice":false,"zero":false},"axis":{"orient":"left","values":[-16,-14,-12,-10,-8,-6,-4,-2],"format":"d","labels":false,"tickSize":5,"grid":true,"gridColor":"#b0b0b0","gridWidth":0.8,"title":null}},
"color":{"datum":"LQG22","type":"nominal","scale":{"domain":["Integrator","LQG22"],"range":["#008080","#dc143c"]},"legend":null}}},
{"data":{"name":"mg5"},"mark":{"type":"rule","strokeDash":[4,2],"strokeWidth":1.2,"opacity":0.85},"encoding":{
"y":{"field":"m","type":"quantitative","scale":{"domain":[-16,-2],"nice":false,"zero":false},"axis":null},
"stroke":{"field":"s","type":"nominal","scale":{"domain":["Integrator","LQG22"],"range":["#008080","#dc143c"]},"legend":null}}},
{"data":{"name":"mg5"},"mark":{"type":"text","align":"left","baseline":"middle","dx":5,"fontSize":14},"encoding":{
"x":{"datum":5,"type":"quantitative","scale":{"domain":[0,5],"nice":false},"axis":null},
"y":{"field":"m","type":"quantitative","scale":{"domain":[-16,-2],"nice":false,"zero":false},"axis":null},
"text":{"field":"lab"},
"fill":{"field":"s","type":"nominal","scale":{"domain":["Integrator","LQG22"],"range":["#008080","#dc143c"]},"legend":null}}},
{"data":{"name":"mg5"},"transform":[{"filter":{"field":"s","equal":"LQG22"}}],"mark":{"type":"text","align":"left","baseline":"middle","dx":5,"dy":-20,"fontSize":14,"color":"black"},"encoding":{
"x":{"datum":5,"type":"quantitative","scale":{"domain":[0,5],"nice":false},"axis":null},
"y":{"field":"m","type":"quantitative","scale":{"domain":[-16,-2],"nice":false,"zero":false},"axis":null},
"text":{"value":"Median:"}}}
],
"resolve":{"axis":{"x":"independent","y":"independent"}}},
{"width":491,"height":254,"title":{"text":"ASP, 2kHz","offset":-5},"data":{"name":"a2"},
"layer":[
{"mark":{"type":"line","strokeWidth":1.8,"opacity":0.6,"clip":true},"encoding":{
"x":{"field":"t","type":"quantitative","scale":{"domain":[0,5],"nice":false},"axis":{"orient":"bottom","values":[0.2,0.4,0.6,0.8,1.2,1.4,1.6,1.8,2.2,2.4,2.6,2.8,3.2,3.4,3.6,3.8,4.2,4.4,4.6,4.8],"labels":false,"tickSize":3,"grid":true,"gridDash":[1,2],"gridColor":"#cccccc","gridWidth":0.8,"title":null}},
"y":{"field":"i","type":"quantitative","scale":{"domain":[-16,-2],"nice":false,"zero":false},"axis":{"orient":"left","values":[-15.5,-15,-14.5,-13.5,-13,-12.5,-11.5,-11,-10.5,-9.5,-9,-8.5,-7.5,-7,-6.5,-5.5,-5,-4.5,-3.5,-3,-2.5],"labels":false,"tickSize":3,"grid":true,"gridDash":[1,2],"gridColor":"#cccccc","gridWidth":0.8,"title":null}},
"color":{"datum":"Integrator","type":"nominal","scale":{"domain":["Integrator","LQG22"],"range":["#008080","#dc143c"]},"legend":null}}},
{"mark":{"type":"line","strokeWidth":1.8,"opacity":0.6,"clip":true},"encoding":{
"x":{"field":"t","type":"quantitative","scale":{"domain":[0,5],"nice":false},"axis":{"orient":"bottom","values":[0,1,2,3,4,5],"format":"d","labels":true,"tickSize":5,"grid":true,"gridColor":"#b0b0b0","gridWidth":0.8,"title":"Time (s)","titleX":562,"titleY":44,"titleAlign":"center","titleBaseline":"alphabetic"}},
"y":{"field":"q","type":"quantitative","scale":{"domain":[-16,-2],"nice":false,"zero":false},"axis":{"orient":"left","values":[-16,-14,-12,-10,-8,-6,-4,-2],"format":"d","labels":true,"tickSize":5,"grid":true,"gridColor":"#b0b0b0","gridWidth":0.8,"title":null}},
"color":{"datum":"LQG22","type":"nominal","scale":{"domain":["Integrator","LQG22"],"range":["#008080","#dc143c"]},"legend":null}}},
{"data":{"name":"ma2"},"mark":{"type":"rule","strokeDash":[4,2],"strokeWidth":1.2,"opacity":0.85},"encoding":{
"y":{"field":"m","type":"quantitative","scale":{"domain":[-16,-2],"nice":false,"zero":false},"axis":null},
"stroke":{"field":"s","type":"nominal","scale":{"domain":["Integrator","LQG22"],"range":["#008080","#dc143c"]},"legend":null}}},
{"data":{"name":"ma2"},"mark":{"type":"text","align":"left","baseline":"middle","dx":5,"fontSize":14},"encoding":{
"x":{"datum":5,"type":"quantitative","scale":{"domain":[0,5],"nice":false},"axis":null},
"y":{"field":"m","type":"quantitative","scale":{"domain":[-16,-2],"nice":false,"zero":false},"axis":null},
"text":{"field":"lab"},
"fill":{"field":"s","type":"nominal","scale":{"domain":["Integrator","LQG22"],"range":["#008080","#dc143c"]},"legend":null}}},
{"data":{"name":"ma2"},"transform":[{"filter":{"field":"s","equal":"LQG22"}}],"mark":{"type":"text","align":"left","baseline":"middle","dx":5,"dy":-20,"fontSize":14,"color":"black"},"encoding":{
"x":{"datum":5,"type":"quantitative","scale":{"domain":[0,5],"nice":false},"axis":null},
"y":{"field":"m","type":"quantitative","scale":{"domain":[-16,-2],"nice":false,"zero":false},"axis":null},
"text":{"value":"Median:"}}}
],
"resolve":{"axis":{"x":"independent","y":"independent"}}},
{"width":491,"height":254,"title":{"text":"ASP, 5kHz","offset":3},"data":{"name":"a5"},
"layer":[
{"mark":{"type":"line","strokeWidth":1.8,"opacity":0.6,"clip":true},"encoding":{
"x":{"field":"t","type":"quantitative","scale":{"domain":[0,5],"nice":false},"axis":{"orient":"bottom","values":[0.2,0.4,0.6,0.8,1.2,1.4,1.6,1.8,2.2,2.4,2.6,2.8,3.2,3.4,3.6,3.8,4.2,4.4,4.6,4.8],"labels":false,"tickSize":3,"grid":true,"gridDash":[1,2],"gridColor":"#cccccc","gridWidth":0.8,"title":null}},
"y":{"field":"i","type":"quantitative","scale":{"domain":[-16,-2],"nice":false,"zero":false},"axis":{"orient":"left","values":[-15.5,-15,-14.5,-13.5,-13,-12.5,-11.5,-11,-10.5,-9.5,-9,-8.5,-7.5,-7,-6.5,-5.5,-5,-4.5,-3.5,-3,-2.5],"labels":false,"tickSize":3,"grid":true,"gridDash":[1,2],"gridColor":"#cccccc","gridWidth":0.8,"title":null}},
"color":{"datum":"Integrator","type":"nominal","scale":{"domain":["Integrator","LQG22"],"range":["#008080","#dc143c"]},"legend":{"orient":"none","legendX":179,"legendY":167,"title":"Loop:"}}}},
{"mark":{"type":"line","strokeWidth":1.8,"opacity":0.6,"clip":true},"encoding":{
"x":{"field":"t","type":"quantitative","scale":{"domain":[0,5],"nice":false},"axis":{"orient":"bottom","values":[0,1,2,3,4,5],"format":"d","labels":true,"tickSize":5,"grid":true,"gridColor":"#b0b0b0","gridWidth":0.8,"title":null}},
"y":{"field":"q","type":"quantitative","scale":{"domain":[-16,-2],"nice":false,"zero":false},"axis":{"orient":"left","values":[-16,-14,-12,-10,-8,-6,-4,-2],"format":"d","labels":false,"tickSize":5,"grid":true,"gridColor":"#b0b0b0","gridWidth":0.8,"title":null}},
"color":{"datum":"LQG22","type":"nominal","scale":{"domain":["Integrator","LQG22"],"range":["#008080","#dc143c"]},"legend":{"orient":"none","legendX":179,"legendY":167,"title":"Loop:"}}}},
{"data":{"name":"ma5"},"mark":{"type":"rule","strokeDash":[4,2],"strokeWidth":1.2,"opacity":0.85},"encoding":{
"y":{"field":"m","type":"quantitative","scale":{"domain":[-16,-2],"nice":false,"zero":false},"axis":null},
"stroke":{"field":"s","type":"nominal","scale":{"domain":["Integrator","LQG22"],"range":["#008080","#dc143c"]},"legend":null}}},
{"data":{"name":"ma5"},"mark":{"type":"text","align":"left","baseline":"middle","dx":5,"fontSize":14},"encoding":{
"x":{"datum":5,"type":"quantitative","scale":{"domain":[0,5],"nice":false},"axis":null},
"y":{"field":"m","type":"quantitative","scale":{"domain":[-16,-2],"nice":false,"zero":false},"axis":null},
"text":{"field":"lab"},
"fill":{"field":"s","type":"nominal","scale":{"domain":["Integrator","LQG22"],"range":["#008080","#dc143c"]},"legend":null}}},
{"data":{"name":"ma5"},"transform":[{"filter":{"field":"s","equal":"LQG22"}}],"mark":{"type":"text","align":"left","baseline":"middle","dx":5,"dy":-20,"fontSize":14,"color":"black"},"encoding":{
"x":{"datum":5,"type":"quantitative","scale":{"domain":[0,5],"nice":false},"axis":null},
"y":{"field":"m","type":"quantitative","scale":{"domain":[-16,-2],"nice":false,"zero":false},"axis":null},
"text":{"value":"Median:"}}}
],
"resolve":{"axis":{"x":"independent","y":"independent"}}}
],
"resolve":{"scale":{"color":"independent","stroke":"independent","fill":"independent"},"legend":{"color":"independent"}},
"config":{
"font":"DejaVu Sans",
"view":{"stroke":"black","strokeWidth":1.1},
"axis":{"domain":false,"tickColor":"black","tickWidth":0.9,"labelColor":"black","labelFontSize":14,"labelPadding":5,"labelFont":"DejaVu Sans","titleColor":"black","titleFont":"DejaVu Sans","titleFontSize":22,"titleFontWeight":"bold"},
"title":{"fontSize":25,"fontWeight":"bold","color":"black","anchor":"middle","baseline":"alphabetic","frame":"group","font":"DejaVu Sans"},
"legend":{"titleFontSize":16,"titleFontWeight":"bold","titleColor":"black","titleAnchor":"middle","titlePadding":3,"labelFontSize":16,"labelColor":"black","labelFont":"DejaVu Sans","titleFont":"DejaVu Sans","symbolType":"stroke","symbolSize":625,"symbolStrokeWidth":1.5,"symbolOpacity":0.5,"fillColor":"white","strokeColor":"#d0d0d0","cornerRadius":4,"padding":8,"rowPadding":0,"labelOffset":16}
}
}
